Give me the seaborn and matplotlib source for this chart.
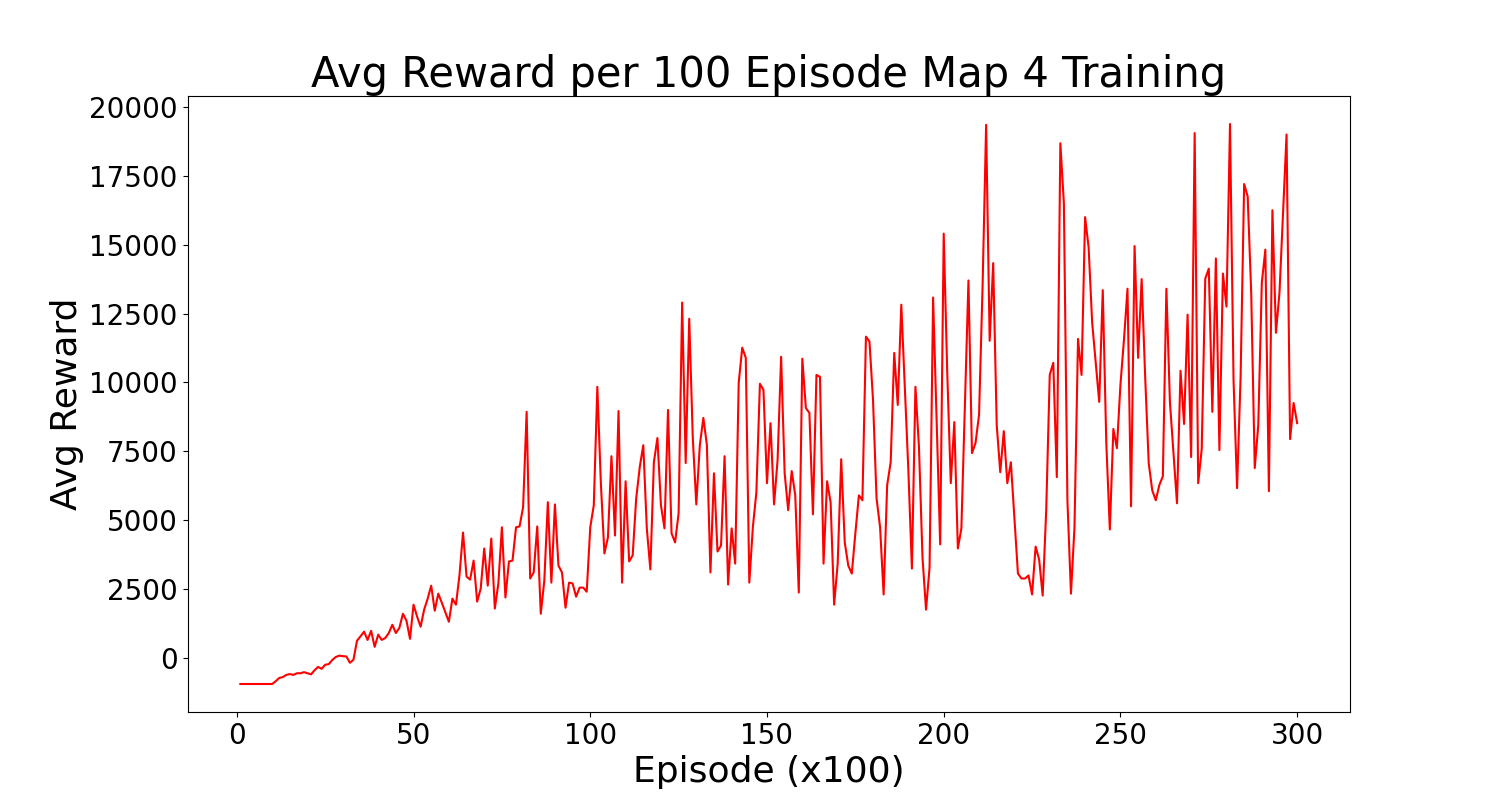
import matplotlib
matplotlib.use('Agg')
import matplotlib.pyplot as plt
import seaborn as sns
import numpy as np
import pandas as pd

# average reward per block of 100 episodes
early = [-950, -950, -950, -950, -950, -950, -950, -950, -950, -950,
         -850, -730, -700, -620, -590, -620, -560, -560, -520, -560,
         -600, -450, -330, -400, -250, -230, -80, 30, 80, 60,
         50, -180, -70, 620, 780, 950, 650, 980, 400, 840,
         650, 720, 900, 1200, 900, 1090, 1600, 1350, 690, 1930,
         1500, 1130, 1750, 2150, 2620, 1710, 2330, 2000, 1650, 1310,
         2150, 1930, 3000, 4550, 2950, 2840, 3530, 2040, 2510, 3970,
         2620, 4330, 1790, 2700, 4740, 2190, 3500, 3530, 4740, 4770,
         5470, 8930, 2880, 3100, 4770, 1600, 2800, 5650, 2730, 5570,
         3350, 3100, 1820, 2730, 2700, 2220, 2550, 2550, 2400, 4740]
middle = [5540, 9840, 6340, 3790, 4370, 7320, 4440, 8960, 2730, 6410,
          3500, 3720, 5790, 6920, 7720, 4700, 3210, 7100, 7980, 5540,
          4700, 9000, 4520, 4190, 5250, 12900, 7070, 12310, 8010, 5570,
          7720, 8710, 7720, 3100, 6700, 3860, 4080, 7320, 2660, 4700,
          3420, 9980, 11260, 10890, 2730, 4740, 6010, 9950, 9730, 6340,
          8520, 5570, 7180, 10930, 6700, 5360, 6780, 5900, 2370, 10860,
          9070, 8890, 5210, 10270, 10200, 3420, 6410, 5650, 1930, 3420,
          7210, 4190, 3350, 3060, 4520, 5900, 5720, 11660, 11480, 9360,
          5790, 4740, 2300, 6270, 7100, 11070, 9180, 12820, 9800, 6810,
          3240, 9840, 7650, 3640, 1750, 3280, 13080, 8600, 4120, 15400]
late = [10350, 6340, 8560, 3970, 4700, 9200, 13700, 7430, 7800, 8820,
        13500, 19350, 11510, 14330, 8450, 6740, 8230, 6340, 7100, 5100,
        3060, 2880, 2880, 2990, 2300, 4040, 3570, 2260, 5360, 10270,
        10710, 6560, 18680, 16500, 5720, 2330, 4740, 11580, 10270, 16000,
        14900, 12170, 10710, 9290, 13350, 7800, 4660, 8310, 7610, 9910,
        11550, 13400, 5500, 14950, 10890, 13750, 10200, 7070, 6080, 5720,
        6270, 6590, 13400, 9290, 7430, 5610, 10420, 8490, 12460, 7290,
        19050, 6340, 7580, 13770, 14130, 8930, 14500, 7540, 13950, 12750,
        19380, 10090, 6160, 10200, 17200, 16750, 13260, 6890, 8450, 13620,
        14820, 6050, 16250, 11800, 13260, 16170, 19000, 7940, 9250, 8520]

rewards = early + middle + late
episodes = np.arange(1, len(rewards) + 1)

df = pd.DataFrame({'episode': episodes, 'reward': rewards})

plt.figure(figsize=(15, 8), dpi=100)

sns.lineplot(x='episode', y='reward', data=df, color='red', linewidth=1.5)

plt.title('Avg Reward per 100 Episode Map 4 Training', fontsize=30)
plt.xlabel('Episode (x100)', fontsize=26)
plt.ylabel('Avg Reward', fontsize=26)
plt.xticks(fontsize=20)
plt.yticks(fontsize=20)

plt.savefig('out.png', dpi=100)
